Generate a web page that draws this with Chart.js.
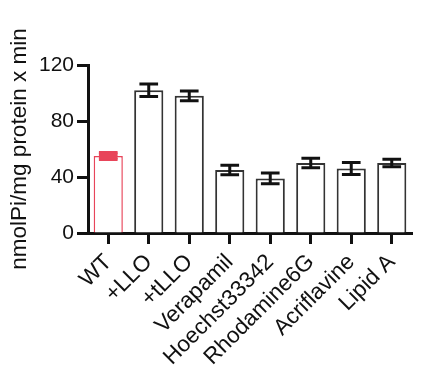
<!DOCTYPE html>
<html>
<head>
<meta charset="utf-8">
<script src="https://cdn.jsdelivr.net/npm/chart.js@4"></script>
<style>
  html, body { margin: 0; padding: 0; background: #fff; }
  #wrap { width: 439px; height: 390px; }
</style>
</head>
<body>
<div id="wrap"><canvas id="activityChart"></canvas></div>
<script>
const categories = ['WT', '+LLO', '+tLLO', 'Verapamil', 'Hoechst33342', 'Rhodamine6G', 'Acriflavine', 'Lipid A'];
const meanValues = [55, 102, 98, 45, 39, 50, 46, 50];
const errValues = [2.5, 4.5, 3.5, 3.4, 3.8, 3.4, 4.3, 2.6];
const yTicks = [0, 40, 80, 120];

const redColor = '#e8455a';
const inkColor = '#111';

// error bars drawn on top of the bars
const errorBars = {
    id: 'errorBars',
    afterDatasetsDraw(chart) {
        const ctx = chart.ctx;
        const meta = chart.getDatasetMeta(0);
        const yScale = chart.scales.y;
        ctx.save();
        meta.data.forEach((bar, i) => {
            const x = bar.x;
            const hi = yScale.getPixelForValue(meanValues[i] + errValues[i]);
            const lo = yScale.getPixelForValue(meanValues[i] - errValues[i]);
            const capHalf = bar.width * 0.32;
            ctx.strokeStyle = i === 0 ? redColor : inkColor;
            ctx.lineWidth = 3;
            ctx.beginPath();
            ctx.moveTo(x, hi); ctx.lineTo(x, lo);
            ctx.moveTo(x - capHalf, hi); ctx.lineTo(x + capHalf, hi);
            ctx.moveTo(x - capHalf, lo); ctx.lineTo(x + capHalf, lo);
            ctx.stroke();
            if (i === 0) {
                ctx.fillStyle = redColor;
                ctx.fillRect(x - capHalf, hi, capHalf * 2, lo - hi);
            }
        });
        ctx.restore();
    }
};

const ctx = document.getElementById('activityChart').getContext('2d');
new Chart(ctx, {
    type: 'bar',
    data: {
        labels: categories,
        datasets: [{
            data: meanValues,
            backgroundColor: '#fff',
            borderColor: categories.map((c, i) => i === 0 ? redColor : '#333'),
            borderWidth: categories.map((c, i) => i === 0 ? 1.5 : 2),
            barPercentage: 0.72,
            categoryPercentage: 1
        }]
    },
    options: {
        responsive: true,
        maintainAspectRatio: false,
        animation: false,
        layout: { padding: { left: 0, top: 65, right: 27, bottom: 0 } },
        plugins: { legend: { display: false }, tooltip: { enabled: false } },
        scales: {
            x: {
                offset: true,
                grid: { display: true, drawOnChartArea: false, offset: false, color: inkColor, tickLength: 11, tickWidth: 3 },
                border: { display: true, color: inkColor, width: 3 },
                ticks: {
                    autoSkip: false, maxRotation: 45, minRotation: 45, padding: 5,
                    color: inkColor, font: { family: 'Liberation Sans, Arial, sans-serif', size: 22.5 }
                },
                afterFit(scale) { scale.height = 157; }
            },
            y: {
                min: 0, max: 120,
                afterBuildTicks(scale) { scale.ticks = yTicks.map(v => ({ value: v })); },
                grid: { display: true, drawOnChartArea: false, color: inkColor, tickLength: 11, tickWidth: 3 },
                border: { display: true, color: inkColor, width: 3 },
                ticks: { padding: 3, color: inkColor, font: { family: 'Liberation Sans, Arial, sans-serif', size: 21 } },
                title: {
                    display: true, text: 'nmolPi/mg protein x min', color: inkColor,
                    padding: { top: 6, bottom: 0 },
                    font: { family: 'Liberation Sans, Arial, sans-serif', size: 22.5 }
                },
                afterFit(scale) { scale.width = 88; }
            }
        }
    },
    plugins: [errorBars]
});
</script>
</body>
</html>
